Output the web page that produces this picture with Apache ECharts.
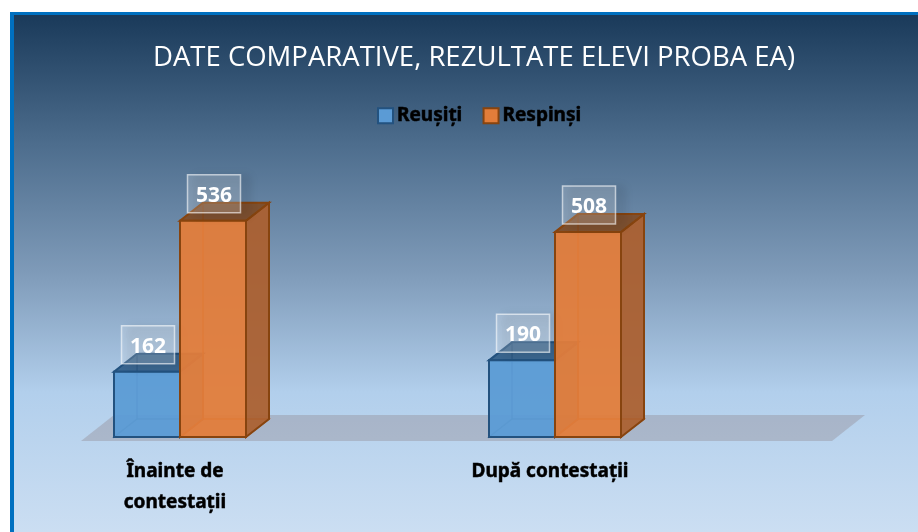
<!DOCTYPE html>
<html>
<head>
<meta charset="utf-8">
<style>
  html, body { margin: 0; padding: 0; background: #fff; overflow: hidden; }
  #frame {
    position: absolute; left: 10px; top: 12px; width: 904px; height: 517px;
    border-top: 3px solid #0070c0; border-left: 4px solid #0070c0;
    background: linear-gradient(180deg, #1a3a5a 0%, #4d6d8d 25%, #7f9bb9 50%, #b2cfec 73%, #cbdef2 100%);
  }
  #chart { position: absolute; left: 0; top: 0; width: 918px; height: 532px; }
</style>
</head>
<body>
<div id="frame"></div>
<div id="chart"></div>
<script src="https://cdn.jsdelivr.net/npm/echarts@6/dist/echarts.min.js"></script>
<script>
const categories = ['Înainte de\ncontestații', 'După contestații'];
const reusiti  = [162, 190];
const respinsi = [536, 508];

const BAR_W = 66;      // lățimea feței din față
const DEPTH_X = 23;    // adâncimea falsă 3D
const DEPTH_Y = -18;

const BLUE = {
  front: 'rgba(91,155,213,0.92)', side: 'rgba(70,125,180,0.75)', top: 'rgba(38,82,125,0.8)',
  back: 'rgba(91,155,213,0.25)', line: '#23527f', inner: 'rgba(35,82,127,0.35)',
};
const ORANGE = {
  front: 'rgba(226,125,58,0.93)', side: 'rgba(170,96,48,0.92)', top: 'rgba(125,72,32,0.85)',
  back: 'rgba(226,125,58,0.25)', line: '#87440f', inner: 'rgba(190,90,25,0.6)',
};

function poly(points, fill, stroke, w) {
  return { type: 'polygon', shape: { points }, style: { fill, stroke, lineWidth: w } };
}

// dibujo la barra como caja transparente: cara trasera, base, frente, lado, tapa y etiqueta
function box3d(side, pal) {
  return function (params, api) {
    const [cx, yTop] = api.coord([api.value(0), api.value(1)]);
    const [, yBase] = api.coord([api.value(0), 0]);
    const x0 = side < 0 ? cx - BAR_W : cx;
    const x1 = x0 + BAR_W;
    const dx = DEPTH_X, dy = DEPTH_Y;
    const mid = (x0 + x1) / 2;
    return {
      type: 'group',
      children: [
        poly([[x0 + dx, yTop + dy], [x1 + dx, yTop + dy], [x1 + dx, yBase + dy], [x0 + dx, yBase + dy]], pal.back, pal.inner, 1.5),
        poly([[x0, yBase], [x1, yBase], [x1 + dx, yBase + dy], [x0 + dx, yBase + dy]], pal.back, pal.inner, 1.5),
        poly([[x0, yTop], [x0 + dx, yTop + dy], [x0 + dx, yBase + dy], [x0, yBase]], pal.back, pal.inner, 1.5),
        poly([[x1, yTop], [x1 + dx, yTop + dy], [x1 + dx, yBase + dy], [x1, yBase]], pal.side, pal.line, 2),
        poly([[x0, yTop], [x1, yTop], [x1 + dx, yTop + dy], [x0 + dx, yTop + dy]], pal.top, pal.line, 2),
        poly([[x0, yTop], [x1, yTop], [x1, yBase], [x0, yBase]], pal.front, pal.line, 2),
        {
          type: 'rect',
          shape: { x: mid - 25.5, y: yTop - 46, width: 53, height: 38 },
          style: {
            fill: 'rgba(255,255,255,0.2)', stroke: 'rgba(255,255,255,0.6)', lineWidth: 1.5,
            shadowBlur: 10, shadowColor: 'rgba(0,0,0,0.35)', shadowOffsetX: 8, shadowOffsetY: 2,
          },
        },
        {
          type: 'text',
          x: mid + 1, y: yTop - 25,
          style: {
            text: String(api.value(1)), fill: '#fff',
            font: 'bold 21px "Open Sans", sans-serif', align: 'center', verticalAlign: 'middle',
          },
        },
      ],
    };
  };
}

const chart = echarts.init(document.getElementById('chart'), null, { renderer: 'canvas' });

chart.setOption({
  backgroundColor: 'transparent',
  animation: false,
  title: {
    text: 'DATE COMPARATIVE, REZULTATE ELEVI PROBA EA)',
    left: 469, top: 39, textAlign: 'center',
    textStyle: { color: '#fff', fontFamily: 'Open Sans, sans-serif', fontWeight: 'normal', fontSize: 27.5 },
  },
  legend: {
    left: 372, top: 101,
    itemWidth: 15, itemHeight: 15, itemGap: 20,
    icon: 'rect',
    textStyle: {
      color: '#000', fontFamily: 'Noto Sans, sans-serif', fontWeight: 'bold', fontSize: 19,
      textBorderColor: '#000', textBorderWidth: 0.5, padding: [0, 0, 0, -1],
    },
    data: [
      { name: 'Reușiți', itemStyle: { color: '#5b9bd5', borderColor: '#23527f', borderWidth: 2 } },
      { name: 'Respinși', itemStyle: { color: '#e27d3a', borderColor: '#87440f', borderWidth: 2 } },
    ],
  },
  grid: { left: -7.5, width: 750, bottom: 95, height: 242, outerBoundsMode: 'none' },
  xAxis: {
    type: 'category',
    data: categories,
    axisLine: { show: false },
    axisTick: { show: false },
    axisLabel: {
      color: '#000', fontFamily: 'Noto Sans, sans-serif', fontWeight: 'bold', fontSize: 19,
      lineHeight: 31, margin: 19, padding: [0, 10, 0, 0], interval: 0,
      textBorderColor: '#000', textBorderWidth: 0.5,
    },
  },
  yAxis: { type: 'value', min: 0, max: 600, show: false },
  graphic: [{
    type: 'polygon', z: 1, silent: true,
    shape: { points: [[81, 441], [832, 441], [865, 415], [114, 415]] },
    style: { fill: 'rgba(141,128,134,0.35)' },
  }],
  series: [
    {
      name: 'Reușiți', type: 'custom', z: 3,
      itemStyle: { color: '#5b9bd5' },
      encode: { x: 0, y: 1 },
      renderItem: box3d(-1, BLUE),
      data: reusiti.map((v, i) => [i, v]),
    },
    {
      name: 'Respinși', type: 'custom', z: 4,
      itemStyle: { color: '#e27d3a' },
      encode: { x: 0, y: 1 },
      renderItem: box3d(1, ORANGE),
      data: respinsi.map((v, i) => [i, v]),
    },
  ],
});
</script>
</body>
</html>
